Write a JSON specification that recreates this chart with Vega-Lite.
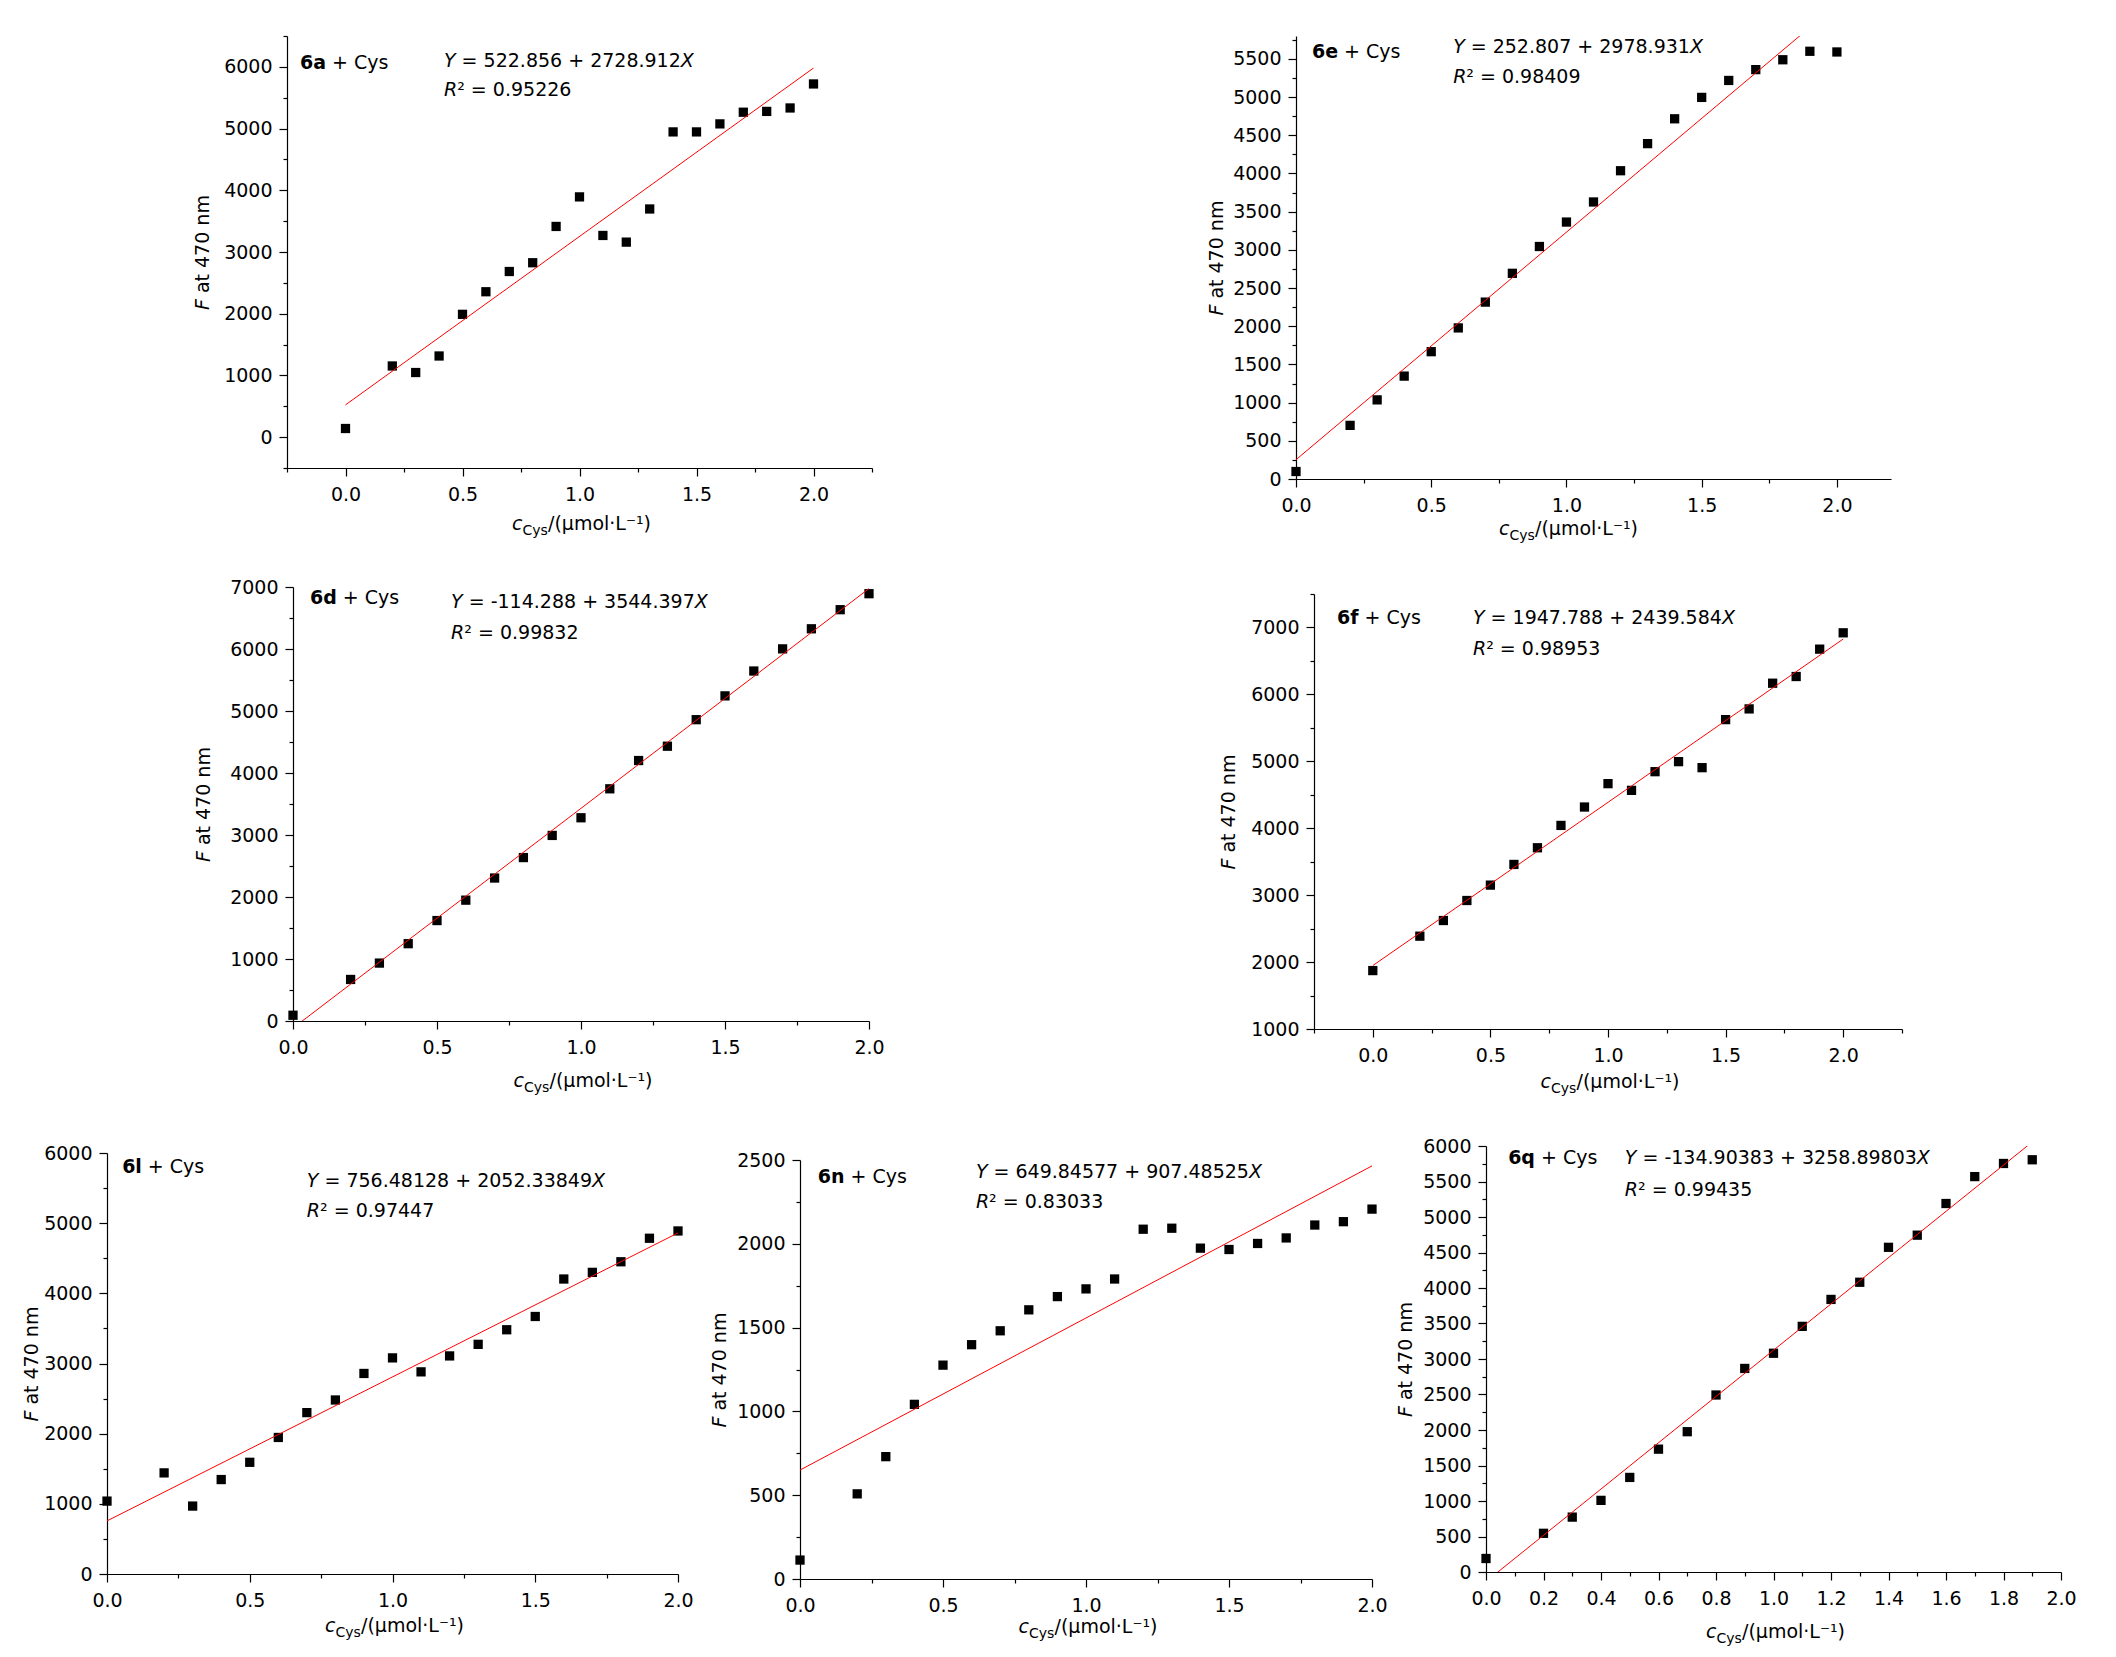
{
"$schema": "https://vega.github.io/schema/vega-lite/v6.json",
"padding": {"left": 7, "top": 35, "right": 5, "bottom": 5},
"background": "white",
"config": {
 "view": {"stroke": null},
 "font": "DejaVu Sans",
 "concat": {"spacing": 0},
 "axis": {"grid": false, "domainColor": "black", "tickColor": "black", "labelColor": "black", "titleColor": "black", "labelFont": "DejaVu Sans", "titleFont": "DejaVu Sans", "labelFontSize": 19, "titleFontSize": 19, "titleFontWeight": "normal", "labelFlush": false, "labelOverlap": false, "labelBound": false, "titleAlign": "left", "titleBaseline": "alphabetic", "domainWidth": 1.2, "tickWidth": 1.2},
 "axisX": {"labelPadding": 9, "titleAngle": 0},
 "axisY": {"labelPadding": 7, "titleAngle": 270},
 "text": {"font": "DejaVu Sans", "fontSize": 19, "align": "left", "baseline": "alphabetic", "fill": "black"}
},
"datasets": {
 "d6a": [{"x":0,"y":140},{"x":0.2,"y":1153},{"x":0.3,"y":1047},{"x":0.4,"y":1315},{"x":0.5,"y":1990},{"x":0.6,"y":2356},{"x":0.7,"y":2684},{"x":0.8,"y":2826},{"x":0.9,"y":3414},{"x":1,"y":3893},{"x":1.1,"y":3268},{"x":1.2,"y":3160},{"x":1.3,"y":3697},{"x":1.4,"y":4946},{"x":1.5,"y":4946},{"x":1.6,"y":5076},{"x":1.7,"y":5265},{"x":1.8,"y":5278},{"x":1.9,"y":5334},{"x":2,"y":5723}],
 "l6a": [{"x":0,"y":522.856},{"x":2,"y":5980.68}],
 "d6e": [{"x":0,"y":98},{"x":0.2,"y":702},{"x":0.3,"y":1036},{"x":0.4,"y":1347},{"x":0.5,"y":1667},{"x":0.6,"y":1978},{"x":0.7,"y":2316},{"x":0.8,"y":2693},{"x":0.9,"y":3044},{"x":1,"y":3364},{"x":1.1,"y":3627},{"x":1.2,"y":4036},{"x":1.3,"y":4391},{"x":1.4,"y":4716},{"x":1.5,"y":4996},{"x":1.6,"y":5218},{"x":1.7,"y":5360},{"x":1.8,"y":5489},{"x":1.9,"y":5600},{"x":2,"y":5591}],
 "l6e": [{"x":0,"y":252.807},{"x":2,"y":6210.669}],
 "d6d": [{"x":0,"y":93},{"x":0.2,"y":670},{"x":0.3,"y":934},{"x":0.4,"y":1247},{"x":0.5,"y":1620},{"x":0.6,"y":1949},{"x":0.7,"y":2306},{"x":0.8,"y":2636},{"x":0.9,"y":2993},{"x":1,"y":3278},{"x":1.1,"y":3745},{"x":1.2,"y":4201},{"x":1.3,"y":4432},{"x":1.4,"y":4860},{"x":1.5,"y":5244},{"x":1.6,"y":5645},{"x":1.7,"y":6002},{"x":1.8,"y":6326},{"x":1.9,"y":6634},{"x":2,"y":6892}],
 "l6d": [{"x":0,"y":-114.288},{"x":2,"y":6974.506}],
 "d6f": [{"x":0,"y":1873},{"x":0.2,"y":2387},{"x":0.3,"y":2621},{"x":0.4,"y":2920},{"x":0.5,"y":3150},{"x":0.6,"y":3459},{"x":0.7,"y":3708},{"x":0.8,"y":4042},{"x":0.9,"y":4317},{"x":1,"y":4666},{"x":1.1,"y":4566},{"x":1.2,"y":4845},{"x":1.3,"y":4995},{"x":1.4,"y":4905},{"x":1.5,"y":5623},{"x":1.6,"y":5783},{"x":1.7,"y":6167},{"x":1.8,"y":6267},{"x":1.9,"y":6676},{"x":2,"y":6920}],
 "l6f": [{"x":0,"y":1947.788},{"x":2,"y":6826.956}],
 "d6l": [{"x":0,"y":1039},{"x":0.2,"y":1441},{"x":0.3,"y":968},{"x":0.4,"y":1346},{"x":0.5,"y":1592},{"x":0.6,"y":1946},{"x":0.7,"y":2300},{"x":0.8,"y":2480},{"x":0.9,"y":2858},{"x":1,"y":3080},{"x":1.1,"y":2881},{"x":1.2,"y":3108},{"x":1.3,"y":3273},{"x":1.4,"y":3481},{"x":1.5,"y":3670},{"x":1.6,"y":4204},{"x":1.7,"y":4299},{"x":1.8,"y":4450},{"x":1.9,"y":4785},{"x":2,"y":4889}],
 "l6l": [{"x":0,"y":756.481},{"x":2,"y":4861.158}],
 "d6n": [{"x":0,"y":113},{"x":0.2,"y":508},{"x":0.3,"y":730},{"x":0.4,"y":1042},{"x":0.5,"y":1276},{"x":0.6,"y":1398},{"x":0.7,"y":1481},{"x":0.8,"y":1606},{"x":0.9,"y":1685},{"x":1,"y":1731},{"x":1.1,"y":1790},{"x":1.2,"y":2087},{"x":1.3,"y":2093},{"x":1.4,"y":1974},{"x":1.5,"y":1966},{"x":1.6,"y":2002},{"x":1.7,"y":2035},{"x":1.8,"y":2112},{"x":1.9,"y":2132},{"x":2,"y":2207}],
 "l6n": [{"x":0,"y":649.846},{"x":2,"y":2464.816}],
 "d6q": [{"x":0,"y":190},{"x":0.2,"y":545},{"x":0.3,"y":773},{"x":0.4,"y":1009},{"x":0.5,"y":1332},{"x":0.6,"y":1730},{"x":0.7,"y":1976},{"x":0.8,"y":2493},{"x":0.9,"y":2867},{"x":1,"y":3081},{"x":1.1,"y":3460},{"x":1.2,"y":3839},{"x":1.3,"y":4081},{"x":1.4,"y":4573},{"x":1.5,"y":4744},{"x":1.6,"y":5190},{"x":1.7,"y":5569},{"x":1.8,"y":5754},{"x":1.9,"y":5806}],
 "l6q": [{"x":0,"y":-134.904},{"x":2,"y":6382.892}]
},
"spacing": 0,
"vconcat": [
 {"spacing": 0, "bounds": "flush", "hconcat": [
  {"width": 280, "height": 542, "data": {"values": []}, "mark": "point"},
  {"width": 585, "height": 432, "data": {"values": [{}]}, "resolve": {"axis": {"x": "independent", "y": "independent"}},
   "layer": [
    {"data": {"name": "d6a"}, "mark": {"type": "point", "shape": "square", "filled": true, "color": "black", "size": 86, "opacity": 1},
     "encoding": {
      "x": {"field": "x", "type": "quantitative", "scale": {"domain": [-0.25, 2.25], "nice": false, "zero": false}, "axis": {"orient": "bottom", "values": [0, 0.5, 1, 1.5, 2], "format": ".1f", "tickSize": 8, "title": "c", "titleFontStyle": "italic", "titleX": 224.5, "titleY": 61}},
      "y": {"field": "y", "type": "quantitative", "scale": {"domain": [-500, 6500], "nice": false, "zero": false}, "axis": {"orient": "left", "values": [0, 1000, 2000, 3000, 4000, 5000, 6000], "format": "d", "tickSize": 8, "title": "F", "titleFontStyle": "italic", "titleX": -79, "titleY": 273.5}}}},
    {"data": {"name": "l6a"}, "mark": {"type": "line", "color": "#ff0000", "strokeWidth": 1, "clip": true},
     "encoding": {
      "x": {"field": "x", "type": "quantitative", "scale": {"domain": [-0.25, 2.25], "nice": false, "zero": false}, "axis": {"orient": "bottom", "values": [-0.25, 0.25, 0.75, 1.25, 1.75, 2.25], "tickSize": 4, "labels": false, "domain": false, "title": "Cys", "titleFontSize": 14, "titleX": 235, "titleY": 66}},
      "y": {"field": "y", "type": "quantitative", "scale": {"domain": [-500, 6500], "nice": false, "zero": false}, "axis": {"orient": "left", "values": [-500, 500, 1500, 2500, 3500, 4500, 5500, 6500], "tickSize": 4, "labels": false, "domain": false, "title": "at 470 nm", "titleX": -79, "titleY": 256.6}}}},
    {"mark": {"type": "text", "fontWeight": "bold"}, "encoding": {"x": {"datum": -0.194, "type": "quantitative", "scale": {"domain": [-0.25, 2.25], "nice": false, "zero": false}, "axis": {"orient": "bottom", "ticks": false, "labels": false, "domain": false, "title": "/(μmol·L⁻¹)", "titleX": 260.5, "titleY": 61}}, "y": {"datum": 5972, "type": "quantitative", "axis": null}, "text": {"value": "6a"}}},
    {"mark": {"type": "text", "dx": 32}, "encoding": {"x": {"datum": -0.194, "type": "quantitative", "axis": null}, "y": {"datum": 5972, "type": "quantitative", "axis": null}, "text": {"value": "+ Cys"}}},
    {"mark": {"type": "text", "fontStyle": "italic"}, "encoding": {"x": {"datum": 0.421, "type": "quantitative", "axis": null}, "y": {"datum": 5998, "type": "quantitative", "axis": null}, "text": {"value": "Y"}}},
    {"mark": {"type": "text", "dx": 17.6}, "encoding": {"x": {"datum": 0.421, "type": "quantitative", "axis": null}, "y": {"datum": 5998, "type": "quantitative", "axis": null}, "text": {"value": "= 522.856 + 2728.912"}}},
    {"mark": {"type": "text", "fontStyle": "italic", "dx": 236.8}, "encoding": {"x": {"datum": 0.421, "type": "quantitative", "axis": null}, "y": {"datum": 5998, "type": "quantitative", "axis": null}, "text": {"value": "X"}}},
    {"mark": {"type": "text", "fontStyle": "italic"}, "encoding": {"x": {"datum": 0.421, "type": "quantitative", "axis": null}, "y": {"datum": 5520, "type": "quantitative", "axis": null}, "text": {"value": "R"}}},
    {"mark": {"type": "text", "dx": 13.2}, "encoding": {"x": {"datum": 0.421, "type": "quantitative", "axis": null}, "y": {"datum": 5520, "type": "quantitative", "axis": null}, "text": {"value": "² = 0.95226"}}}
   ]},
  {"width": 424, "height": 1, "data": {"values": []}, "mark": "point"},
  {"width": 595, "height": 443, "data": {"values": [{}]}, "resolve": {"axis": {"x": "independent", "y": "independent"}},
   "layer": [
    {"data": {"name": "d6e"}, "mark": {"type": "point", "shape": "square", "filled": true, "color": "black", "size": 86, "opacity": 1},
     "encoding": {
      "x": {"field": "x", "type": "quantitative", "scale": {"domain": [0, 2.2], "nice": false, "zero": false}, "axis": {"orient": "bottom", "values": [0, 0.5, 1, 1.5, 2], "format": ".1f", "tickSize": 8, "title": "c", "titleFontStyle": "italic", "titleX": 202.5, "titleY": 55}},
      "y": {"field": "y", "type": "quantitative", "scale": {"domain": [0, 5800], "nice": false, "zero": false}, "axis": {"orient": "left", "values": [0, 500, 1000, 1500, 2000, 2500, 3000, 3500, 4000, 4500, 5000, 5500], "format": "d", "tickSize": 8, "title": "F", "titleFontStyle": "italic", "titleX": -74, "titleY": 279}}}},
    {"data": {"name": "l6e"}, "mark": {"type": "line", "color": "#ff0000", "strokeWidth": 1, "clip": true},
     "encoding": {
      "x": {"field": "x", "type": "quantitative", "scale": {"domain": [0, 2.2], "nice": false, "zero": false}, "axis": {"orient": "bottom", "values": [0.25, 0.75, 1.25, 1.75], "tickSize": 4, "labels": false, "domain": false, "title": "Cys", "titleFontSize": 14, "titleX": 213, "titleY": 60}},
      "y": {"field": "y", "type": "quantitative", "scale": {"domain": [0, 5800], "nice": false, "zero": false}, "axis": {"orient": "left", "values": [250, 750, 1250, 1750, 2250, 2750, 3250, 3750, 4250, 4750, 5250, 5750], "tickSize": 4, "labels": false, "domain": false, "title": "at 470 nm", "titleX": -74, "titleY": 262.1}}}},
    {"mark": {"type": "text", "fontWeight": "bold"}, "encoding": {"x": {"datum": 0.059, "type": "quantitative", "scale": {"domain": [0, 2.2], "nice": false, "zero": false}, "axis": {"orient": "bottom", "ticks": false, "labels": false, "domain": false, "title": "/(μmol·L⁻¹)", "titleX": 238.5, "titleY": 55}}, "y": {"datum": 5516, "type": "quantitative", "axis": null}, "text": {"value": "6e"}}},
    {"mark": {"type": "text", "dx": 32.1}, "encoding": {"x": {"datum": 0.059, "type": "quantitative", "axis": null}, "y": {"datum": 5516, "type": "quantitative", "axis": null}, "text": {"value": "+ Cys"}}},
    {"mark": {"type": "text", "fontStyle": "italic"}, "encoding": {"x": {"datum": 0.581, "type": "quantitative", "axis": null}, "y": {"datum": 5583, "type": "quantitative", "axis": null}, "text": {"value": "Y"}}},
    {"mark": {"type": "text", "dx": 17.6}, "encoding": {"x": {"datum": 0.581, "type": "quantitative", "axis": null}, "y": {"datum": 5583, "type": "quantitative", "axis": null}, "text": {"value": "= 252.807 + 2978.931"}}},
    {"mark": {"type": "text", "fontStyle": "italic", "dx": 236.8}, "encoding": {"x": {"datum": 0.581, "type": "quantitative", "axis": null}, "y": {"datum": 5583, "type": "quantitative", "axis": null}, "text": {"value": "X"}}},
    {"mark": {"type": "text", "fontStyle": "italic"}, "encoding": {"x": {"datum": 0.581, "type": "quantitative", "axis": null}, "y": {"datum": 5185, "type": "quantitative", "axis": null}, "text": {"value": "R"}}},
    {"mark": {"type": "text", "dx": 13.2}, "encoding": {"x": {"datum": 0.581, "type": "quantitative", "axis": null}, "y": {"datum": 5185, "type": "quantitative", "axis": null}, "text": {"value": "² = 0.98409"}}}
   ]}
 ]},
 {"spacing": 0, "bounds": "flush", "hconcat": [
  {"width": 286, "height": 550, "data": {"values": []}, "mark": "point"},
  {"width": 576, "height": 434, "data": {"values": [{}]}, "resolve": {"axis": {"x": "independent", "y": "independent"}},
   "layer": [
    {"data": {"name": "d6d"}, "mark": {"type": "point", "shape": "square", "filled": true, "color": "black", "size": 86, "opacity": 1},
     "encoding": {
      "x": {"field": "x", "type": "quantitative", "scale": {"domain": [0, 2], "nice": false, "zero": false}, "axis": {"orient": "bottom", "values": [0, 0.5, 1, 1.5, 2], "format": ".1f", "tickSize": 8, "title": "c", "titleFontStyle": "italic", "titleX": 220, "titleY": 65}},
      "y": {"field": "y", "type": "quantitative", "scale": {"domain": [0, 7000], "nice": false, "zero": false}, "axis": {"orient": "left", "values": [0, 1000, 2000, 3000, 4000, 5000, 6000, 7000], "format": "d", "tickSize": 8, "title": "F", "titleFontStyle": "italic", "titleX": -84, "titleY": 274.5}}}},
    {"data": {"name": "l6d"}, "mark": {"type": "line", "color": "#ff0000", "strokeWidth": 1, "clip": true},
     "encoding": {
      "x": {"field": "x", "type": "quantitative", "scale": {"domain": [0, 2], "nice": false, "zero": false}, "axis": {"orient": "bottom", "values": [0.25, 0.75, 1.25, 1.75], "tickSize": 4, "labels": false, "domain": false, "title": "Cys", "titleFontSize": 14, "titleX": 230.5, "titleY": 70}},
      "y": {"field": "y", "type": "quantitative", "scale": {"domain": [0, 7000], "nice": false, "zero": false}, "axis": {"orient": "left", "values": [500, 1500, 2500, 3500, 4500, 5500, 6500], "tickSize": 4, "labels": false, "domain": false, "title": "at 470 nm", "titleX": -84, "titleY": 257.6}}}},
    {"mark": {"type": "text", "fontWeight": "bold"}, "encoding": {"x": {"datum": 0.059, "type": "quantitative", "scale": {"domain": [0, 2], "nice": false, "zero": false}, "axis": {"orient": "bottom", "ticks": false, "labels": false, "domain": false, "title": "/(μmol·L⁻¹)", "titleX": 256, "titleY": 65}}, "y": {"datum": 6726, "type": "quantitative", "axis": null}, "text": {"value": "6d"}}},
    {"mark": {"type": "text", "dx": 32.8}, "encoding": {"x": {"datum": 0.059, "type": "quantitative", "axis": null}, "y": {"datum": 6726, "type": "quantitative", "axis": null}, "text": {"value": "+ Cys"}}},
    {"mark": {"type": "text", "fontStyle": "italic"}, "encoding": {"x": {"datum": 0.549, "type": "quantitative", "axis": null}, "y": {"datum": 6655, "type": "quantitative", "axis": null}, "text": {"value": "Y"}}},
    {"mark": {"type": "text", "dx": 17.6}, "encoding": {"x": {"datum": 0.549, "type": "quantitative", "axis": null}, "y": {"datum": 6655, "type": "quantitative", "axis": null}, "text": {"value": "= -114.288 + 3544.397"}}},
    {"mark": {"type": "text", "fontStyle": "italic", "dx": 243.6}, "encoding": {"x": {"datum": 0.549, "type": "quantitative", "axis": null}, "y": {"datum": 6655, "type": "quantitative", "axis": null}, "text": {"value": "X"}}},
    {"mark": {"type": "text", "fontStyle": "italic"}, "encoding": {"x": {"datum": 0.549, "type": "quantitative", "axis": null}, "y": {"datum": 6161, "type": "quantitative", "axis": null}, "text": {"value": "R"}}},
    {"mark": {"type": "text", "dx": 13.2}, "encoding": {"x": {"datum": 0.549, "type": "quantitative", "axis": null}, "y": {"datum": 6161, "type": "quantitative", "axis": null}, "text": {"value": "² = 0.99832"}}}
   ]},
  {"width": 445, "height": 1, "data": {"values": []}, "mark": "point"},
  {"spacing": 0, "bounds": "flush", "vconcat": [
   {"width": 1, "height": 7, "data": {"values": []}, "mark": "point"},
   {"width": 588, "height": 435, "data": {"values": [{}]}, "resolve": {"axis": {"x": "independent", "y": "independent"}},
    "layer": [
     {"data": {"name": "d6f"}, "mark": {"type": "point", "shape": "square", "filled": true, "color": "black", "size": 86, "opacity": 1},
      "encoding": {
       "x": {"field": "x", "type": "quantitative", "scale": {"domain": [-0.25, 2.25], "nice": false, "zero": false}, "axis": {"orient": "bottom", "values": [0, 0.5, 1, 1.5, 2], "format": ".1f", "tickSize": 8, "title": "c", "titleFontStyle": "italic", "titleX": 226, "titleY": 58}},
       "y": {"field": "y", "type": "quantitative", "scale": {"domain": [1000, 7500], "nice": false, "zero": false}, "axis": {"orient": "left", "values": [1000, 2000, 3000, 4000, 5000, 6000, 7000], "format": "d", "tickSize": 8, "title": "F", "titleFontStyle": "italic", "titleX": -80, "titleY": 275}}}},
     {"data": {"name": "l6f"}, "mark": {"type": "line", "color": "#ff0000", "strokeWidth": 1, "clip": true},
      "encoding": {
       "x": {"field": "x", "type": "quantitative", "scale": {"domain": [-0.25, 2.25], "nice": false, "zero": false}, "axis": {"orient": "bottom", "values": [-0.25, 0.25, 0.75, 1.25, 1.75, 2.25], "tickSize": 4, "labels": false, "domain": false, "title": "Cys", "titleFontSize": 14, "titleX": 236.5, "titleY": 63}},
       "y": {"field": "y", "type": "quantitative", "scale": {"domain": [1000, 7500], "nice": false, "zero": false}, "axis": {"orient": "left", "values": [1500, 2500, 3500, 4500, 5500, 6500, 7500], "tickSize": 4, "labels": false, "domain": false, "title": "at 470 nm", "titleX": -80, "titleY": 258.1}}}},
     {"mark": {"type": "text", "fontWeight": "bold"}, "encoding": {"x": {"datum": -0.152, "type": "quantitative", "scale": {"domain": [-0.25, 2.25], "nice": false, "zero": false}, "axis": {"orient": "bottom", "ticks": false, "labels": false, "domain": false, "title": "/(μmol·L⁻¹)", "titleX": 262, "titleY": 58}}, "y": {"datum": 7052, "type": "quantitative", "axis": null}, "text": {"value": "6f"}}},
     {"mark": {"type": "text", "dx": 27.5}, "encoding": {"x": {"datum": -0.152, "type": "quantitative", "axis": null}, "y": {"datum": 7052, "type": "quantitative", "axis": null}, "text": {"value": "+ Cys"}}},
     {"mark": {"type": "text", "fontStyle": "italic"}, "encoding": {"x": {"datum": 0.426, "type": "quantitative", "axis": null}, "y": {"datum": 7052, "type": "quantitative", "axis": null}, "text": {"value": "Y"}}},
     {"mark": {"type": "text", "dx": 17.6}, "encoding": {"x": {"datum": 0.426, "type": "quantitative", "axis": null}, "y": {"datum": 7052, "type": "quantitative", "axis": null}, "text": {"value": "= 1947.788 + 2439.584"}}},
     {"mark": {"type": "text", "fontStyle": "italic", "dx": 248.9}, "encoding": {"x": {"datum": 0.426, "type": "quantitative", "axis": null}, "y": {"datum": 7052, "type": "quantitative", "axis": null}, "text": {"value": "X"}}},
     {"mark": {"type": "text", "fontStyle": "italic"}, "encoding": {"x": {"datum": 0.426, "type": "quantitative", "axis": null}, "y": {"datum": 6589, "type": "quantitative", "axis": null}, "text": {"value": "R"}}},
     {"mark": {"type": "text", "dx": 13.2}, "encoding": {"x": {"datum": 0.426, "type": "quantitative", "axis": null}, "y": {"datum": 6589, "type": "quantitative", "axis": null}, "text": {"value": "² = 0.98953"}}}
    ]}
  ]}
 ]},
 {"spacing": 0, "bounds": "flush", "hconcat": [
  {"width": 100, "height": 1, "data": {"values": []}, "mark": "point"},
  {"spacing": 0, "bounds": "flush", "vconcat": [
   {"width": 1, "height": 7, "data": {"values": []}, "mark": "point"},
   {"width": 571, "height": 421, "data": {"values": [{}]}, "resolve": {"axis": {"x": "independent", "y": "independent"}},
    "layer": [
     {"data": {"name": "d6l"}, "mark": {"type": "point", "shape": "square", "filled": true, "color": "black", "size": 86, "opacity": 1},
      "encoding": {
       "x": {"field": "x", "type": "quantitative", "scale": {"domain": [0, 2], "nice": false, "zero": false}, "axis": {"orient": "bottom", "values": [0, 0.5, 1, 1.5, 2], "format": ".1f", "tickSize": 8, "title": "c", "titleFontStyle": "italic", "titleX": 217.5, "titleY": 57}},
       "y": {"field": "y", "type": "quantitative", "scale": {"domain": [0, 6000], "nice": false, "zero": false}, "axis": {"orient": "left", "values": [0, 1000, 2000, 3000, 4000, 5000, 6000], "format": "d", "tickSize": 8, "title": "F", "titleFontStyle": "italic", "titleX": -70, "titleY": 268}}}},
     {"data": {"name": "l6l"}, "mark": {"type": "line", "color": "#ff0000", "strokeWidth": 1, "clip": true},
      "encoding": {
       "x": {"field": "x", "type": "quantitative", "scale": {"domain": [0, 2], "nice": false, "zero": false}, "axis": {"orient": "bottom", "values": [0.25, 0.75, 1.25, 1.75], "tickSize": 4, "labels": false, "domain": false, "title": "Cys", "titleFontSize": 14, "titleX": 228, "titleY": 62}},
       "y": {"field": "y", "type": "quantitative", "scale": {"domain": [0, 6000], "nice": false, "zero": false}, "axis": {"orient": "left", "values": [500, 1500, 2500, 3500, 4500, 5500], "tickSize": 4, "labels": false, "domain": false, "title": "at 470 nm", "titleX": -70, "titleY": 251.1}}}},
     {"mark": {"type": "text", "fontWeight": "bold"}, "encoding": {"x": {"datum": 0.053, "type": "quantitative", "scale": {"domain": [0, 2], "nice": false, "zero": false}, "axis": {"orient": "bottom", "ticks": false, "labels": false, "domain": false, "title": "/(μmol·L⁻¹)", "titleX": 253.5, "titleY": 57}}, "y": {"datum": 5715, "type": "quantitative", "axis": null}, "text": {"value": "6l"}}},
     {"mark": {"type": "text", "dx": 25.7}, "encoding": {"x": {"datum": 0.053, "type": "quantitative", "axis": null}, "y": {"datum": 5715, "type": "quantitative", "axis": null}, "text": {"value": "+ Cys"}}},
     {"mark": {"type": "text", "fontStyle": "italic"}, "encoding": {"x": {"datum": 0.7, "type": "quantitative", "axis": null}, "y": {"datum": 5515, "type": "quantitative", "axis": null}, "text": {"value": "Y"}}},
     {"mark": {"type": "text", "dx": 17.6}, "encoding": {"x": {"datum": 0.7, "type": "quantitative", "axis": null}, "y": {"datum": 5515, "type": "quantitative", "axis": null}, "text": {"value": "= 756.48128 + 2052.33849"}}},
     {"mark": {"type": "text", "fontStyle": "italic", "dx": 285.1}, "encoding": {"x": {"datum": 0.7, "type": "quantitative", "axis": null}, "y": {"datum": 5515, "type": "quantitative", "axis": null}, "text": {"value": "X"}}},
     {"mark": {"type": "text", "fontStyle": "italic"}, "encoding": {"x": {"datum": 0.7, "type": "quantitative", "axis": null}, "y": {"datum": 5088, "type": "quantitative", "axis": null}, "text": {"value": "R"}}},
     {"mark": {"type": "text", "dx": 13.2}, "encoding": {"x": {"datum": 0.7, "type": "quantitative", "axis": null}, "y": {"datum": 5088, "type": "quantitative", "axis": null}, "text": {"value": "² = 0.97447"}}}
    ]}
  ]},
  {"width": 693, "height": 1, "data": {"values": []}, "mark": "point"},
  {"spacing": 0, "bounds": "flush", "vconcat": [
   {"width": 1, "height": 14, "data": {"values": []}, "mark": "point"},
   {"width": 572, "height": 419, "data": {"values": [{}]}, "resolve": {"axis": {"x": "independent", "y": "independent"}},
    "layer": [
     {"data": {"name": "d6n"}, "mark": {"type": "point", "shape": "square", "filled": true, "color": "black", "size": 86, "opacity": 1},
      "encoding": {
       "x": {"field": "x", "type": "quantitative", "scale": {"domain": [0, 2], "nice": false, "zero": false}, "axis": {"orient": "bottom", "values": [0, 0.5, 1, 1.5, 2], "format": ".1f", "tickSize": 8, "title": "c", "titleFontStyle": "italic", "titleX": 218, "titleY": 53}},
       "y": {"field": "y", "type": "quantitative", "scale": {"domain": [0, 2500], "nice": false, "zero": false}, "axis": {"orient": "left", "values": [0, 500, 1000, 1500, 2000, 2500], "format": "d", "tickSize": 8, "title": "F", "titleFontStyle": "italic", "titleX": -75, "titleY": 267}}}},
     {"data": {"name": "l6n"}, "mark": {"type": "line", "color": "#ff0000", "strokeWidth": 1, "clip": true},
      "encoding": {
       "x": {"field": "x", "type": "quantitative", "scale": {"domain": [0, 2], "nice": false, "zero": false}, "axis": {"orient": "bottom", "values": [0.25, 0.75, 1.25, 1.75], "tickSize": 4, "labels": false, "domain": false, "title": "Cys", "titleFontSize": 14, "titleX": 228.5, "titleY": 58}},
       "y": {"field": "y", "type": "quantitative", "scale": {"domain": [0, 2500], "nice": false, "zero": false}, "axis": {"orient": "left", "values": [250, 750, 1250, 1750, 2250], "tickSize": 4, "labels": false, "domain": false, "title": "at 470 nm", "titleX": -75, "titleY": 250.1}}}},
     {"mark": {"type": "text", "fontWeight": "bold"}, "encoding": {"x": {"datum": 0.062, "type": "quantitative", "scale": {"domain": [0, 2], "nice": false, "zero": false}, "axis": {"orient": "bottom", "ticks": false, "labels": false, "domain": false, "title": "/(μmol·L⁻¹)", "titleX": 254, "titleY": 53}}, "y": {"datum": 2365, "type": "quantitative", "axis": null}, "text": {"value": "6n"}}},
     {"mark": {"type": "text", "dx": 32.8}, "encoding": {"x": {"datum": 0.062, "type": "quantitative", "axis": null}, "y": {"datum": 2365, "type": "quantitative", "axis": null}, "text": {"value": "+ Cys"}}},
     {"mark": {"type": "text", "fontStyle": "italic"}, "encoding": {"x": {"datum": 0.615, "type": "quantitative", "axis": null}, "y": {"datum": 2393, "type": "quantitative", "axis": null}, "text": {"value": "Y"}}},
     {"mark": {"type": "text", "dx": 17.6}, "encoding": {"x": {"datum": 0.615, "type": "quantitative", "axis": null}, "y": {"datum": 2393, "type": "quantitative", "axis": null}, "text": {"value": "= 649.84577 + 907.48525"}}},
     {"mark": {"type": "text", "fontStyle": "italic", "dx": 273}, "encoding": {"x": {"datum": 0.615, "type": "quantitative", "axis": null}, "y": {"datum": 2393, "type": "quantitative", "axis": null}, "text": {"value": "X"}}},
     {"mark": {"type": "text", "fontStyle": "italic"}, "encoding": {"x": {"datum": 0.615, "type": "quantitative", "axis": null}, "y": {"datum": 2216, "type": "quantitative", "axis": null}, "text": {"value": "R"}}},
     {"mark": {"type": "text", "dx": 13.2}, "encoding": {"x": {"datum": 0.615, "type": "quantitative", "axis": null}, "y": {"datum": 2216, "type": "quantitative", "axis": null}, "text": {"value": "² = 0.83033"}}}
    ]}
  ]},
  {"width": 686, "height": 1, "data": {"values": []}, "mark": "point"},
  {"width": 575, "height": 426, "data": {"values": [{}]}, "resolve": {"axis": {"x": "independent", "y": "independent"}},
   "layer": [
    {"data": {"name": "d6q"}, "mark": {"type": "point", "shape": "square", "filled": true, "color": "black", "size": 86, "opacity": 1},
     "encoding": {
      "x": {"field": "x", "type": "quantitative", "scale": {"domain": [0, 2], "nice": false, "zero": false}, "axis": {"orient": "bottom", "values": [0, 0.2, 0.4, 0.6, 0.8, 1, 1.2, 1.4, 1.6, 1.8, 2], "format": ".1f", "tickSize": 8, "title": "c", "titleFontStyle": "italic", "titleX": 219.5, "titleY": 65}},
      "y": {"field": "y", "type": "quantitative", "scale": {"domain": [0, 6000], "nice": false, "zero": false}, "axis": {"orient": "left", "values": [0, 500, 1000, 1500, 2000, 2500, 3000, 3500, 4000, 4500, 5000, 5500, 6000], "format": "d", "tickSize": 8, "title": "F", "titleFontStyle": "italic", "titleX": -75, "titleY": 270.5}}}},
    {"data": {"name": "l6q"}, "mark": {"type": "line", "color": "#ff0000", "strokeWidth": 1, "clip": true},
     "encoding": {
      "x": {"field": "x", "type": "quantitative", "scale": {"domain": [0, 2], "nice": false, "zero": false}, "axis": {"orient": "bottom", "values": [0.1, 0.3, 0.5, 0.7, 0.9, 1.1, 1.3, 1.5, 1.7, 1.9], "tickSize": 4, "labels": false, "domain": false, "title": "Cys", "titleFontSize": 14, "titleX": 230, "titleY": 70}},
      "y": {"field": "y", "type": "quantitative", "scale": {"domain": [0, 6000], "nice": false, "zero": false}, "axis": {"orient": "left", "values": [250, 750, 1250, 1750, 2250, 2750, 3250, 3750, 4250, 4750, 5250, 5750], "tickSize": 4, "labels": false, "domain": false, "title": "at 470 nm", "titleX": -75, "titleY": 253.6}}}},
    {"mark": {"type": "text", "fontWeight": "bold"}, "encoding": {"x": {"datum": 0.077, "type": "quantitative", "scale": {"domain": [0, 2], "nice": false, "zero": false}, "axis": {"orient": "bottom", "ticks": false, "labels": false, "domain": false, "title": "/(μmol·L⁻¹)", "titleX": 255.5, "titleY": 65}}, "y": {"datum": 5746, "type": "quantitative", "axis": null}, "text": {"value": "6q"}}},
    {"mark": {"type": "text", "dx": 32.8}, "encoding": {"x": {"datum": 0.077, "type": "quantitative", "axis": null}, "y": {"datum": 5746, "type": "quantitative", "axis": null}, "text": {"value": "+ Cys"}}},
    {"mark": {"type": "text", "fontStyle": "italic"}, "encoding": {"x": {"datum": 0.483, "type": "quantitative", "axis": null}, "y": {"datum": 5746, "type": "quantitative", "axis": null}, "text": {"value": "Y"}}},
    {"mark": {"type": "text", "dx": 17.6}, "encoding": {"x": {"datum": 0.483, "type": "quantitative", "axis": null}, "y": {"datum": 5746, "type": "quantitative", "axis": null}, "text": {"value": "= -134.90383 + 3258.89803"}}},
    {"mark": {"type": "text", "fontStyle": "italic", "dx": 292}, "encoding": {"x": {"datum": 0.483, "type": "quantitative", "axis": null}, "y": {"datum": 5746, "type": "quantitative", "axis": null}, "text": {"value": "X"}}},
    {"mark": {"type": "text", "fontStyle": "italic"}, "encoding": {"x": {"datum": 0.483, "type": "quantitative", "axis": null}, "y": {"datum": 5301, "type": "quantitative", "axis": null}, "text": {"value": "R"}}},
    {"mark": {"type": "text", "dx": 13.2}, "encoding": {"x": {"datum": 0.483, "type": "quantitative", "axis": null}, "y": {"datum": 5301, "type": "quantitative", "axis": null}, "text": {"value": "² = 0.99435"}}}
   ]}
 ]}
]
}
